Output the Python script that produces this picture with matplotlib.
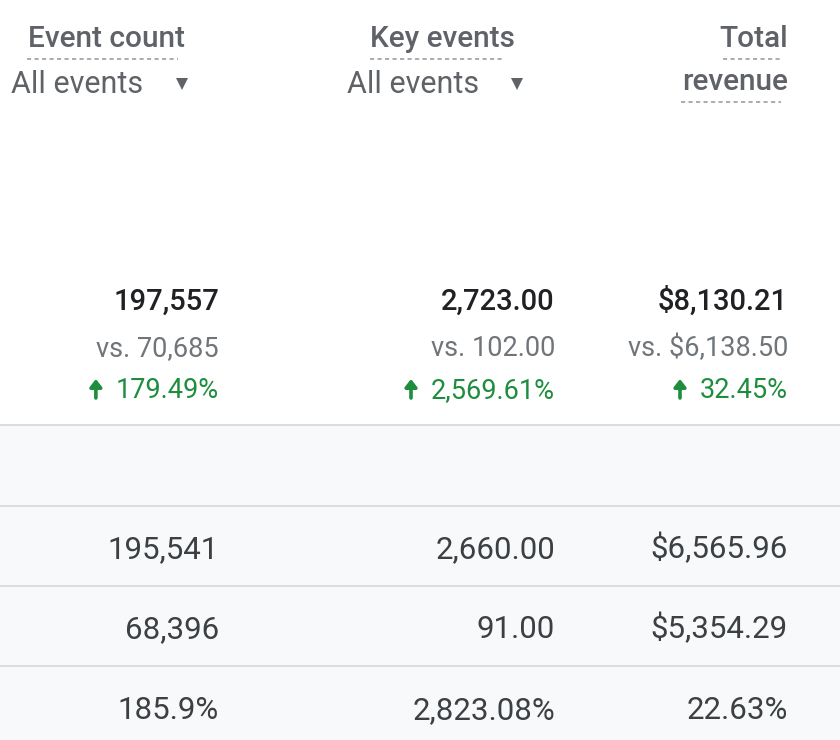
import matplotlib
matplotlib.use("Agg")
import matplotlib.pyplot as plt
from matplotlib.patches import Rectangle

# ---- data ----
headers = ["Event count", "Key events", "Total\nrevenue"]
sub_labels = ["All events", "All events", ""]
totals = ["197,557", "2,723.00", "$8,130.21"]
compare = ["vs. 70,685", "vs. 102.00", "vs. $6,138.50"]
changes = ["179.49%", "2,569.61%", "32.45%"]
row_a = ["195,541", "2,660.00", "$6,565.96"]
row_b = ["68,396", "91.00", "$5,354.29"]
row_c = ["185.9%", "2,823.08%", "22.63%"]

# ---- layout / style ----
W, H = 840, 740
col_right = [219, 555, 788]
DARK = "#202124"
ROWTXT = "#3c4043"
GRAY = "#5f6368"
GREEN = "#1e8e3e"
LINE = "#dadce0"
BAND = "#f8f9fa"
FAM = ["Roboto", "DejaVu Sans"]

fig = plt.figure(figsize=(W / 100, H / 100), dpi=100)
ax = fig.add_axes([0, 0, 1, 1])
ax.set_xlim(0, W)
ax.set_ylim(H, 0)
ax.axis("off")

# bottom gray band and separators
ax.add_patch(Rectangle((0, 425), W, H - 425, facecolor=BAND, edgecolor="none", zorder=0))
for yl in [425, 506, 586, 666]:
    ax.plot([0, W], [yl, yl], color=LINE, lw=1.4, zorder=1)

# headers
hdr_fs = 21.5
dash = dict(color="#9aa0a6", lw=1.2, ls=(0, (2.5, 2)))
ax.text(185, 47, headers[0].split("\n")[0], ha="right", va="baseline",
        fontsize=hdr_fs, color=GRAY, fontweight="medium", family=FAM)
ax.plot([27, 178], [59, 59], **dash)
ax.text(515, 47, headers[1].split("\n")[0], ha="right", va="baseline",
        fontsize=hdr_fs, color=GRAY, fontweight="medium", family=FAM)
ax.plot([370, 504], [59, 59], **dash)
h3a, h3b = headers[2].split("\n")
ax.text(788, 47, h3a, ha="right", va="baseline",
        fontsize=hdr_fs, color=GRAY, fontweight="medium", family=FAM)
ax.plot([723, 780], [59, 59], **dash)
ax.text(788, 90, h3b, ha="right", va="baseline",
        fontsize=hdr_fs, color=GRAY, fontweight="medium", family=FAM)
ax.plot([681, 781], [102, 102], **dash)

# sub labels with dropdown
for xl, xa, lab in [(11, 182, sub_labels[0]), (347, 517, sub_labels[1])]:
    ax.text(xl, 93, lab, ha="left", va="baseline", fontsize=22, color=GRAY, family=FAM)
    ax.plot([xa], [84], marker="v", markersize=9, color=GRAY, markeredgewidth=0)

# totals block
for i, xr in enumerate(col_right):
    ax.text(xr, 310, totals[i], ha="right", va="baseline", fontsize=21,
            color=DARK, fontweight="medium", family=FAM)
    ax.text(xr, 356, compare[i], ha="right", va="baseline", fontsize=19.5,
            color="#70757a", family=FAM)
    t = ax.text(xr, 398, changes[i], ha="right", va="baseline", fontsize=19.5,
                color=GREEN, family=FAM)
    fig.canvas.draw()
    bb = t.get_window_extent(renderer=fig.canvas.get_renderer())
    x0 = bb.x0  # pixels, same as data x
    ax.annotate("", xy=(x0 - 20, 379), xytext=(x0 - 20, 398),
                arrowprops=dict(arrowstyle="-|>,head_width=0.35,head_length=0.45",
                                color=GREEN, lw=2.6, shrinkA=0, shrinkB=0))

# table rows
for yb, row in [(558, row_a), (638, row_b), (719, row_c)]:
    for i, xr in enumerate(col_right):
        ax.text(xr, yb, row[i], ha="right", va="baseline", fontsize=22.5,
                color=ROWTXT, family=FAM)

fig.savefig("out.png", dpi=100, facecolor="white")
